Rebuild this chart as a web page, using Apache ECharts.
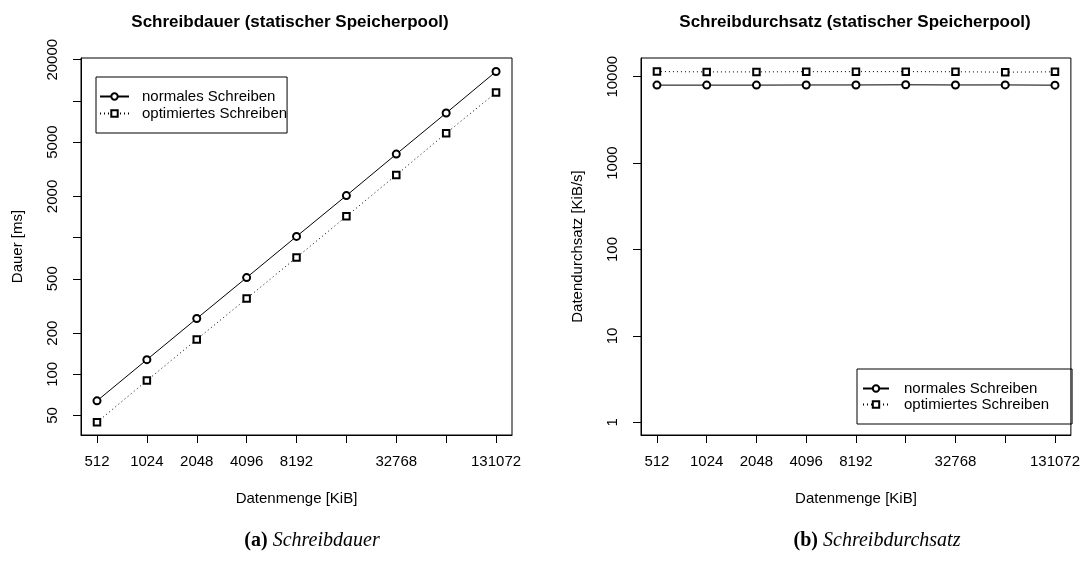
<!DOCTYPE html>
<html>
<head>
<meta charset="utf-8">
<script src="https://cdn.jsdelivr.net/npm/echarts@6/dist/echarts.min.js"></script>
<style>
html, body { margin: 0; padding: 0; background: #fff; }
#main { width: 1083px; height: 565px; }
</style>
</head>
<body>
<div id="main"></div>
<script>
// Datenmenge [KiB]
var sizes = [512, 1024, 2048, 4096, 8192, 16384, 32768, 65536, 131072];
var sizeLabels = [512, 1024, 2048, 4096, 8192, 32768, 131072];

// Schreibdauer [ms]
var dauerNormal = [64, 128, 256, 510, 1020, 2030, 4080, 8150, 16400];
var dauerOptimiert = [44.6, 90, 180, 358, 715, 1430, 2870, 5800, 11500];
var dauerTicks = [50, 100, 200, 500, 1000, 2000, 5000, 10000, 20000];
var dauerLabels = [50, 100, 200, 500, 2000, 5000, 20000];

// Schreibdurchsatz [KiB/s]
var durchsatzNormal = [8000, 8000, 8000, 8030, 8030, 8070, 8030, 8040, 7990];
var durchsatzOptimiert = [11480, 11380, 11380, 11440, 11460, 11460, 11420, 11300, 11400];
var durchsatzTicks = [1, 10, 100, 1000, 10000];

var names = ['normales Schreiben', 'optimiertes Schreiben'];

var FONT = 'Liberation Sans, Arial, Helvetica, sans-serif';
var SERIF = 'Liberation Serif, Times New Roman, serif';

function pairs(xs, ys) {
	var out = [];
	for (var i = 0; i < xs.length; i++) out.push([xs[i], ys[i]]);
	return out;
}

function xAxisFor(grid) {
	return {
		type: 'log',
		logBase: 2,
		gridIndex: grid,
		min: 410,
		max: 163600,
		name: 'Datenmenge [KiB]',
		nameLocation: 'middle',
		nameGap: 56,
		nameTextStyle: { color: '#000', fontSize: 15, fontFamily: FONT },
		axisLine: { show: true, lineStyle: { color: '#000', width: 1 } },
		axisTick: { show: true, length: 8, lineStyle: { color: '#000', width: 1 }, customValues: sizes },
		axisLabel: {
			color: '#000', fontSize: 15, fontFamily: FONT, margin: 19,
			customValues: sizeLabels,
			formatter: function (v) { return String(v); }
		},
		splitLine: { show: false },
		minorTick: { show: false }
	};
}

function yAxisFor(grid, name, min, max, ticks, labels) {
	return {
		type: 'log',
		logBase: 10,
		gridIndex: grid,
		min: min,
		max: max,
		name: name,
		nameLocation: 'middle',
		nameGap: 56,
		nameTextStyle: { color: '#000', fontSize: 15, fontFamily: FONT },
		axisLine: { show: true, lineStyle: { color: '#000', width: 1 } },
		axisTick: { show: true, length: 8, lineStyle: { color: '#000', width: 1 }, customValues: ticks },
		axisLabel: {
			color: '#000', fontSize: 15, fontFamily: FONT, margin: 21, rotate: 90,
			customValues: labels,
			formatter: function (v) { return String(v); }
		},
		splitLine: { show: false },
		minorTick: { show: false }
	};
}

function lineSeries(name, grid, data, dotted) {
	return {
		name: name,
		type: 'line',
		xAxisIndex: grid,
		yAxisIndex: grid,
		data: data,
		symbol: dotted ? 'emptyRect' : 'emptyCircle',
		symbolSize: dotted ? 6.5 : 7,
		itemStyle: { color: '#000', borderColor: '#000', borderWidth: 1 },
		lineStyle: { color: '#000', width: 1, type: dotted ? [1, 3] : 'solid' },
		emphasis: { disabled: true },
		animation: false
	};
}

function legendAt(pos, padding, textPad, itemWidth, gap) {
	var l = {
		orient: 'vertical',
		data: names,
		borderColor: '#000',
		borderWidth: 1,
		borderRadius: 0,
		padding: padding,
		itemWidth: itemWidth,
		itemHeight: 8,
		itemGap: gap,
		selectedMode: false,
		textStyle: { color: '#000', fontSize: 15, fontFamily: FONT, lineHeight: 15, padding: [0, 0, 0, textPad] }
	};
	for (var k in pos) l[k] = pos[k];
	return l;
}

var chart = echarts.init(document.getElementById('main'), null, { renderer: 'canvas' });

var option = {
	backgroundColor: '#fff',
	animation: false,
	title: [
		{
			text: 'Schreibdauer (statischer Speicherpool)',
			left: 290, top: 14, textAlign: 'center', padding: 0,
			textStyle: { color: '#000', fontSize: 17, fontWeight: 'bold', fontFamily: FONT }
		},
		{
			text: 'Schreibdurchsatz (statischer Speicherpool)',
			left: 855, top: 14, textAlign: 'center', padding: 0,
			textStyle: { color: '#000', fontSize: 17, fontWeight: 'bold', fontFamily: FONT }
		},
		{
			text: '{a|(a)} {b|Schreibdauer}',
			left: 312, top: 531, textAlign: 'center', padding: 0,
			textStyle: {
				rich: {
					a: { fontFamily: SERIF, fontSize: 20, fontWeight: 'bold', color: '#000' },
					b: { fontFamily: SERIF, fontSize: 20, fontWeight: 'normal', fontStyle: 'italic', color: '#000' }
				}
			}
		},
		{
			text: '{a|(b)} {b|Schreibdurchsatz}',
			left: 877, top: 531, textAlign: 'center', padding: 0,
			textStyle: {
				rich: {
					a: { fontFamily: SERIF, fontSize: 20, fontWeight: 'bold', color: '#000' },
					b: { fontFamily: SERIF, fontSize: 20, fontWeight: 'normal', fontStyle: 'italic', color: '#000' }
				}
			}
		}
	],
	legend: [
		legendAt({ left: 96, top: 77 }, [12, 0, 12, 3], 8, 29, 2),
		legendAt({ left: 857, top: 369 }, [12, 23, 12, 5], 10, 26, 1)
	],
	grid: [
		{ left: 81, top: 58, width: 431, height: 377, show: true, borderColor: '#000', borderWidth: 1, backgroundColor: 'transparent' },
		{ left: 641, top: 58, width: 431, height: 377, show: true, borderColor: '#000', borderWidth: 1, backgroundColor: 'transparent' }
	],
	xAxis: [xAxisFor(0), xAxisFor(1)],
	yAxis: [
		yAxisFor(0, 'Dauer [ms]', 36, 20590, dauerTicks, dauerLabels),
		yAxisFor(1, 'Datendurchsatz [KiB/s]', 0.712, 16480, durchsatzTicks, durchsatzTicks)
	],
	series: [
		lineSeries(names[0], 0, pairs(sizes, dauerNormal), false),
		lineSeries(names[1], 0, pairs(sizes, dauerOptimiert), true),
		lineSeries(names[0], 1, pairs(sizes, durchsatzNormal), false),
		lineSeries(names[1], 1, pairs(sizes, durchsatzOptimiert), true)
	]
};

chart.setOption(option);
</script>
</body>
</html>
